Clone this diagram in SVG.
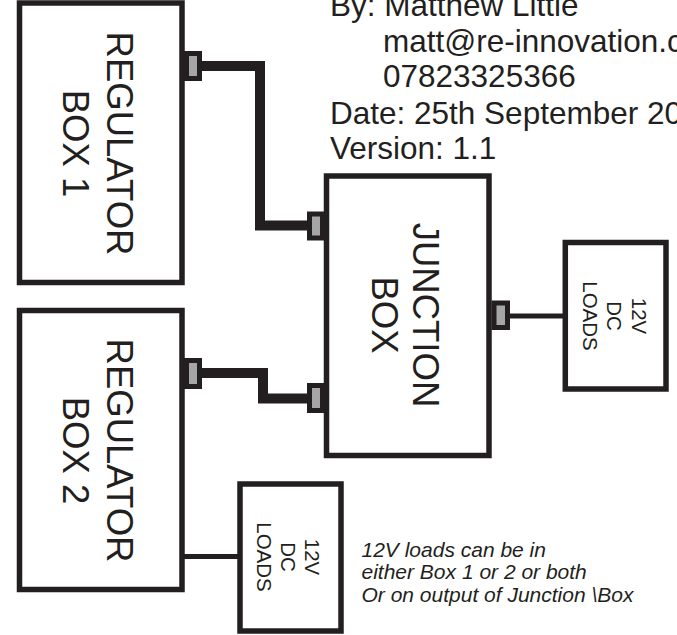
<svg xmlns="http://www.w3.org/2000/svg" width="677" height="635" viewBox="0 0 677 635">
  <style>
    .box { fill: #ffffff; stroke: #231f20; stroke-width: 5.5; }
    .port { fill: #a6a6a6; stroke: #231f20; stroke-width: 5; }
    .wire { fill: none; stroke: #231f20; stroke-width: 10; stroke-linejoin: miter; }
    .thin { fill: none; stroke: #231f20; stroke-width: 5; }
    .big { font-family: "Liberation Sans", Arial, sans-serif; font-size: 36.5px; fill: #231f20; text-anchor: middle; }
    .small { font-family: "Liberation Sans", Arial, sans-serif; font-size: 20.5px; fill: #231f20; text-anchor: middle; }
    .head { font-family: "Liberation Sans", Arial, sans-serif; font-size: 31.5px; fill: #231f20; }
    .note { font-family: "Liberation Sans", Arial, sans-serif; font-size: 21px; font-style: italic; fill: #231f20; }
  </style>
  <rect width="677" height="635" fill="#ffffff"/>

  <g id="connectors">
    <path class="wire" d="M200,66 H260 V225.5 H309"/>
    <path class="wire" d="M200,373 H263 V398.5 H309"/>
    <path class="thin" d="M508,316 H566"/>
    <path class="thin" d="M182,556.5 H241"/>
  </g>

  <g id="regulator1">
    <rect class="box" x="19.5" y="3" width="162.5" height="279.5"/>
    <text class="big" transform="translate(107,143.5) rotate(90)"><tspan x="0" y="0">REGULATOR</tspan><tspan x="0" y="44">BOX 1</tspan></text>
    <rect class="port" x="186.5" y="53.5" width="13" height="25"/>
  </g>

  <g id="regulator2">
    <rect class="box" x="19.5" y="310.5" width="162.5" height="279"/>
    <text class="big" transform="translate(107,450.5) rotate(90)"><tspan x="0" y="0">REGULATOR</tspan><tspan x="0" y="44">BOX 2</tspan></text>
    <rect class="port" x="186.5" y="360.5" width="13" height="26"/>
  </g>

  <g id="junction">
    <rect class="box" x="326.5" y="176" width="162.5" height="279.5"/>
    <text class="big" transform="translate(413,315) rotate(90)"><tspan x="0" y="0">JUNCTION</tspan><tspan x="0" y="41.5">BOX</tspan></text>
    <rect class="port" x="309.5" y="214" width="13" height="24"/>
    <rect class="port" x="309.5" y="385.5" width="13" height="25"/>
    <rect class="port" x="494" y="303" width="13.5" height="24.5"/>
  </g>

  <g id="loads1">
    <rect class="box" x="565.3" y="242.5" width="100.7" height="146.5"/>
    <text class="small" transform="translate(631.5,316) rotate(90)"><tspan x="0" y="0">12V</tspan><tspan x="0" y="24.5">DC</tspan><tspan x="0" y="49">LOADS</tspan></text>
  </g>

  <g id="loads2">
    <rect class="box" x="240" y="484" width="101" height="147"/>
    <text class="small" transform="translate(305,557) rotate(90)"><tspan x="0" y="0">12V</tspan><tspan x="0" y="24">DC</tspan><tspan x="0" y="48.5">LOADS</tspan></text>
  </g>

  <g id="header">
    <text class="head" x="330" y="16">By: Matthew Little</text>
    <text class="head" x="383" y="51.7">matt@re-innovation.c</text>
    <text class="head" x="383" y="87.3">07823325366</text>
    <text class="head" x="330" y="123.5">Date: 25th September 20</text>
    <text class="head" x="330" y="159.3">Version: 1.1</text>
  </g>

  <g id="note">
    <text class="note" x="361.5" y="556.5">12V loads can be in</text>
    <text class="note" x="361.5" y="579.2">either Box 1 or 2 or both</text>
    <text class="note" x="361.5" y="601.9">Or on output of Junction \Box</text>
  </g>
</svg>
